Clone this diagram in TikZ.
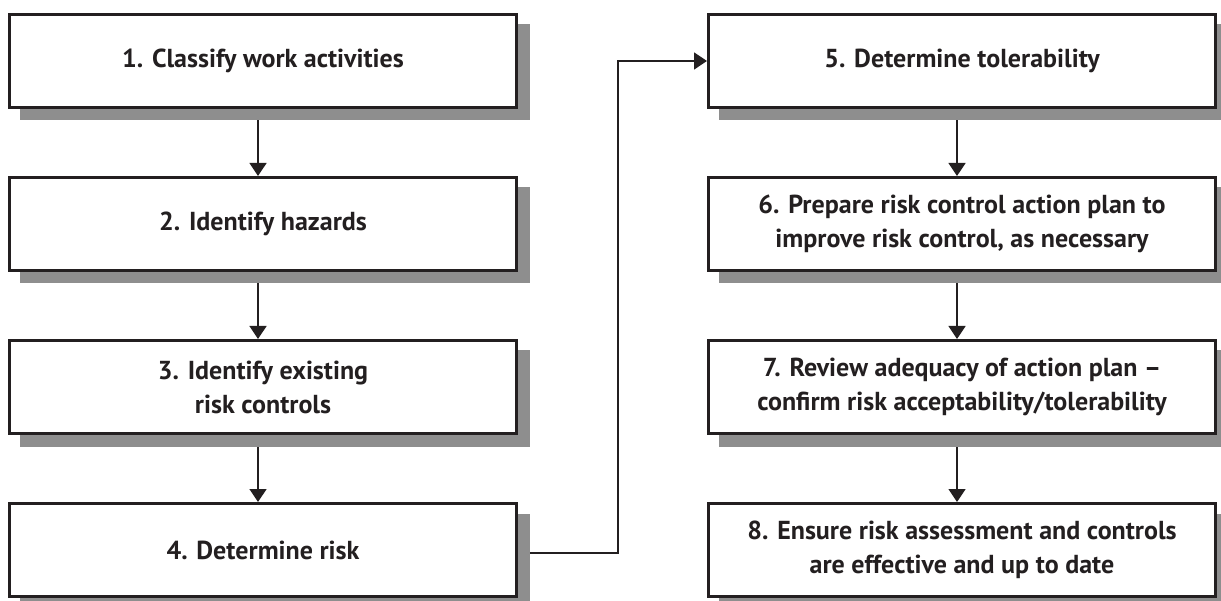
\documentclass[tikz,border=0pt]{standalone}
\usepackage{fontspec}
\setmainfont{PT Sans}
\usetikzlibrary{arrows.meta,backgrounds,calc}
\definecolor{ink}{HTML}{231F20}
\definecolor{shade}{HTML}{8E8E8E}
\begin{document}
\begin{tikzpicture}[x=1pt,y=-1pt,
  stepbox/.style={draw=ink,line width=3pt,fill=white,
    minimum width=507pt,minimum height=93pt,inner sep=0pt,
    align=center,text=ink,font=\fontsize{26}{34}\selectfont\bfseries},
  link/.style={draw=ink,line width=1.4pt,-{Triangle[length=13pt,width=17pt]}},
  dropshadow/.style={fill=shade}]
\useasboundingbox (0,0) rectangle (1221,601);

% left column
\node[stepbox] (b1) at (263,61)  {1. Classify work activities};
\node[stepbox] (b2) at (263,224) {2. Identify hazards};
\node[stepbox] (b3) at (263,387) {3. Identify existing\\risk controls};
\node[stepbox] (b4) at (263,550) {4. Determine risk};
% right column
\node[stepbox] (b5) at (962,61)  {5. Determine tolerability};
\node[stepbox] (b6) at (962,224) {6. Prepare risk control action plan to\\improve risk control, as necessary};
\node[stepbox] (b7) at (962,387) {7. Review adequacy of action plan --\\confirm risk acceptability/tolerability};
\node[stepbox] (b8) at (962,550) {8. Ensure risk assessment and controls\\are effective and up to date};

\begin{scope}[on background layer]
  % connectors run underneath the shadows
  \foreach \a/\b in {b1/b2,b2/b3,b3/b4,b5/b6,b6/b7,b7/b8}
    \draw[link] ([shift={(-5,11.5)}]\a.south) -- ([xshift=-5pt]\b.north);
  \draw[link] ([shift={(11,3)}]b4.east) -| ([xshift=-89pt]b5.west) -- (b5.west);
  % drop shadows
  \foreach \n in {b1,b2,b3,b4,b5,b6,b7,b8}
    \fill[dropshadow] ([shift={(11.5,11.5)}]\n.south west) rectangle ([shift={(11.5,11.5)}]\n.north east);
\end{scope}
\end{tikzpicture}
\end{document}
